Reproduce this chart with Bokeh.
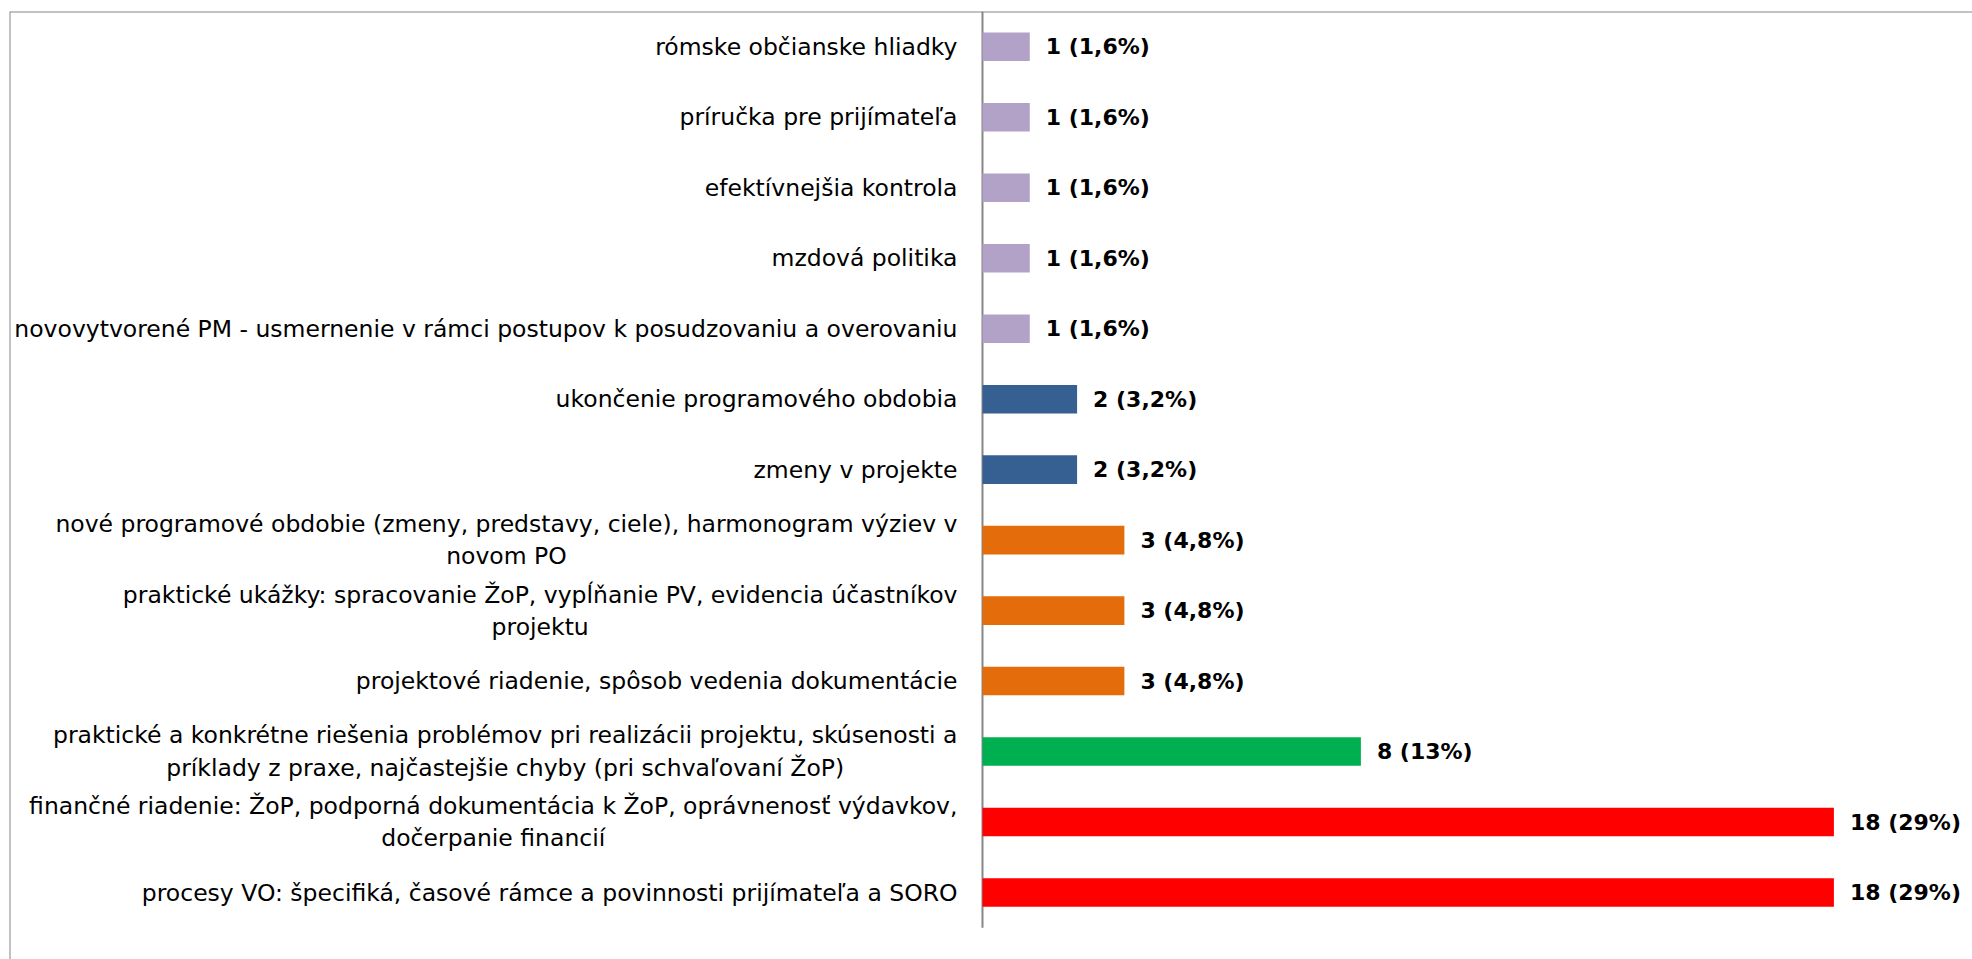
from bokeh.plotting import figure
from bokeh.models import Range1d, ColumnDataSource, Span
from bokeh.core.properties import value
from bokeh.embed import file_html
from bokeh.resources import INLINE

# Data (top to bottom as shown in the chart)
categories = [
    "rómske občianske hliadky",
    "príručka pre prijímateľa",
    "efektívnejšia kontrola",
    "mzdová politika",
    "novovytvorené PM - usmernenie v rámci postupov k posudzovaniu a overovaniu",
    "ukončenie programového obdobia",
    "zmeny v projekte",
    "nové programové obdobie (zmeny, predstavy, ciele), harmonogram výziev v\nnovom PO",
    "praktické ukážky: spracovanie ŽoP, vypĺňanie PV, evidencia účastníkov\nprojektu",
    "projektové riadenie, spôsob vedenia dokumentácie",
    "praktické a konkrétne riešenia problémov pri realizácii projektu, skúsenosti a\npríklady z praxe, najčastejšie chyby (pri schvaľovaní ŽoP)",
    "finančné riadenie: ŽoP, podporná dokumentácia k ŽoP, oprávnenosť výdavkov,\ndočerpanie financií",
    "procesy VO: špecifiká, časové rámce a povinnosti prijímateľa a SORO",
]
counts = [1, 1, 1, 1, 1, 2, 2, 3, 3, 3, 8, 18, 18]
percents = ["1,6%", "1,6%", "1,6%", "1,6%", "1,6%", "3,2%", "3,2%",
            "4,8%", "4,8%", "4,8%", "13%", "29%", "29%"]
colors = ["#B3A2C7"] * 5 + ["#376092"] * 2 + ["#E46C0A"] * 3 + ["#00B050"] + ["#FF0000"] * 2

n = len(categories)
ypos = [n - 1 - i for i in range(n)]
labels = [f"{c} ({p})" for c, p in zip(counts, percents)]

src = ColumnDataSource(dict(y=ypos, cat=categories, count=counts, lbl=labels, color=colors))

X0, X1 = -20.57, 20.93
Y0, Y1 = -0.95, 12.5
GRAY = "#868686"

p = figure(width=1972, height=959, output_backend="svg", toolbar_location=None,
           x_range=Range1d(X0, X1), y_range=Range1d(Y0, Y1),
           min_border_left=9, min_border_top=11, min_border_right=0, min_border_bottom=0)
p.xaxis.visible = False
p.yaxis.visible = False
p.xgrid.visible = False
p.ygrid.visible = False
p.outline_line_color = None
p.background_fill_color = "white"
p.border_fill_color = "white"

# chart border (top and left edges visible in the crop)
p.add_layout(Span(location=Y1, dimension="width", line_color=GRAY, line_width=2))
p.add_layout(Span(location=X0, dimension="height", line_color=GRAY, line_width=2))

# vertical axis line
p.segment(x0=[0], y0=[-0.5], x1=[0], y1=[Y1], line_color=GRAY, line_width=2)

p.hbar(y="y", left=0, right="count", height=0.405, fill_color="color", line_color=None, source=src)

p.text(x=0, y="y", text="cat", source=src, x_offset=-25, anchor=value("center_right"),
       text_align="center", text_baseline="middle", text_font=value("DejaVu Sans"),
       text_font_size="23.5px", text_line_height=1.15, text_color="black")

p.text(x="count", y="y", text="lbl", source=src, x_offset=16, text_align="left",
       text_baseline="middle", text_font=value("DejaVu Sans"), text_font_size="22px",
       text_font_style="bold", text_color="black")

open("out.html", "w").write(file_html(p, INLINE))
